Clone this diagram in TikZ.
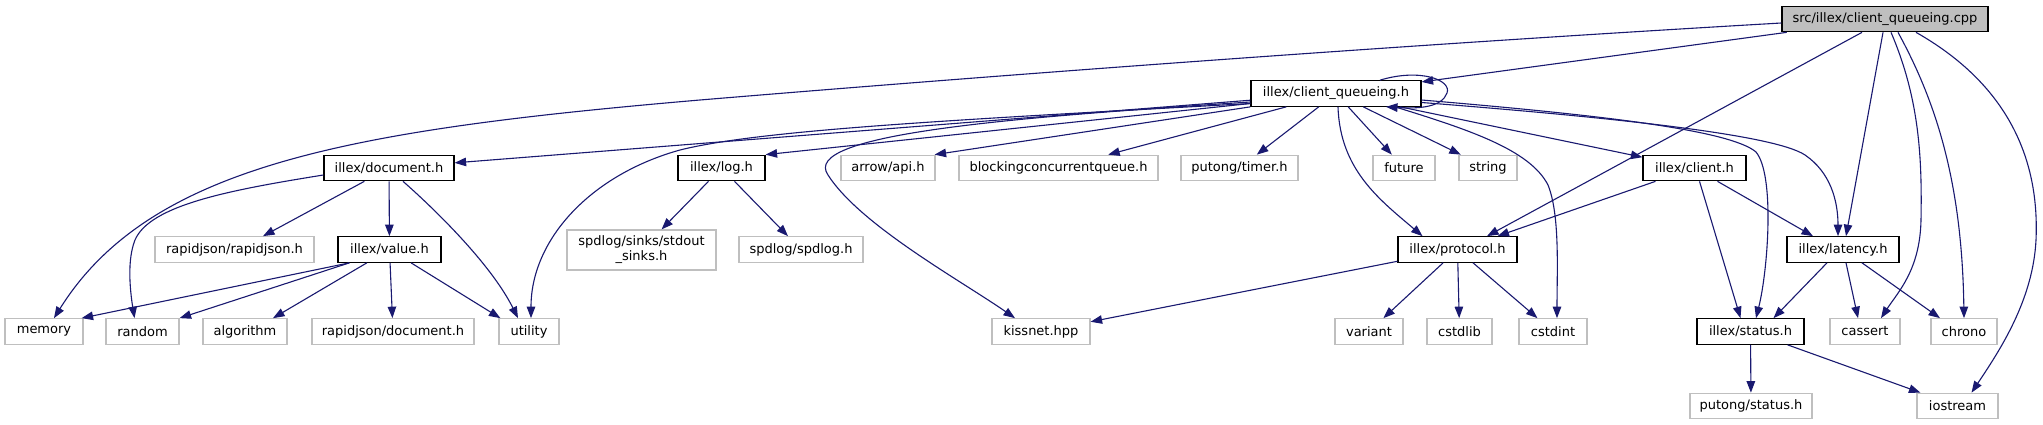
\documentclass[tikz,border=0pt]{standalone}
\usepackage{fontspec}
\setmainfont{DejaVu Sans}
\usetikzlibrary{arrows.meta,calc}
\definecolor{edgec}{HTML}{191970}
\definecolor{greyb}{HTML}{BFBFBF}
\begin{document}
\begin{tikzpicture}[x=1pt,y=-1pt,
  font=\fontsize{13}{15}\selectfont,
  nb/.style={draw=black, line width=1.2pt, fill=white, inner sep=0pt, minimum height=25.5pt},
  gb/.style={draw=greyb, line width=1.2pt, fill=white, inner sep=0pt, minimum height=25.5pt},
  e/.style={draw=edgec, line width=1.1pt, -{Triangle[length=11.5pt,width=8.5pt]}},
  wd/.style={minimum width=#1}]
\fill[white] (0,0) rectangle (2043,425);
\useasboundingbox (0,0) rectangle (2043,425);
% row 0
\node[nb,fill=greyb,wd=206] (cpp) at (1885,19) {src/illex/client\_queueing.cpp};
% row 1
\node[nb,wd=170] (cq) at (1336,93.5) {illex/client\_queueing.h};
% row 2
\node[nb,wd=130] (doc) at (389,168) {illex/document.h};
\node[nb,wd=87] (log) at (721.5,168) {illex/log.h};
\node[gb,wd=94] (api) at (888,168) {arrow/api.h};
\node[gb,wd=199] (bcq) at (1058.5,168) {blockingconcurrentqueue.h};
\node[gb,wd=117] (timer) at (1239.5,168) {putong/timer.h};
\node[gb,wd=62] (future) at (1404,168) {future};
\node[gb,wd=58] (string) at (1488,168) {string};
\node[nb,wd=103] (client) at (1694.5,168) {illex/client.h};
% row 3
\node[gb,wd=159] (rj) at (234.5,249.5) {rapidjson/rapidjson.h};
\node[nb,wd=103] (value) at (389.5,249.5) {illex/value.h};
\node[gb,wd=149,minimum height=40pt,align=center] (stdout) at (641.5,250) {spdlog/sinks/stdout\\\_sinks.h};
\node[gb,wd=124] (spdlog) at (801,249.5) {spdlog/spdlog.h};
\node[nb,wd=119] (protocol) at (1457.5,249.5) {illex/protocol.h};
\node[nb,wd=112] (latency) at (1843,249.5) {illex/latency.h};
% row 4
\node[gb,wd=78] (memory) at (44,331.5) {memory};
\node[gb,wd=73] (random) at (142.5,331.5) {random};
\node[gb,wd=84] (algorithm) at (245,331.5) {algorithm};
\node[gb,wd=162] (rjdoc) at (393,331.5) {rapidjson/document.h};
\node[gb,wd=60] (utility) at (529,331.5) {utility};
\node[gb,wd=98] (kissnet) at (1041,331.5) {kissnet.hpp};
\node[gb,wd=68] (variant) at (1369,331.5) {variant};
\node[gb,wd=65] (cstdlib) at (1459.5,331.5) {cstdlib};
\node[gb,wd=68] (cstdint) at (1553,331.5) {cstdint};
\node[nb,wd=107] (status) at (1750.5,331.5) {illex/status.h};
\node[gb,wd=70] (cassert) at (1865,331.5) {cassert};
\node[gb,wd=66] (chrono) at (1964,331.5) {chrono};
% row 5
\node[gb,wd=122] (pstatus) at (1751,406) {putong/status.h};
\node[gb,wd=81] (iostream) at (1957.5,406) {iostream};

% edges from cpp
\draw[e] (cpp) -- (cq);
\draw[e] ($(cpp.west)+(0,4)$) .. controls (1400,45) and (1000,75) .. (700,100)
   .. controls (350,130) and (150,165) .. ($(memory.north)+(10,0)$);
\draw[e] ($(cpp.south)+(-23,0)$) -- ($(protocol.north)+(29.5,0)$);
\draw[e] ($(cpp.south)+(-2,0)$) -- ($(latency.north)+(3,0)$);
\draw[e] ($(cpp.south)+(6,0)$) .. controls (1920,100) and (1922,160) .. (1921,220)
   .. controls (1920,270) and (1898,292) .. ($(cassert.north)+(16,0)$);
\draw[e] ($(cpp.south)+(13,0)$) .. controls (1935,100) and (1962,180) .. (chrono.north);
\draw[e] ($(cpp.south)+(31,0)$) .. controls (2000,80) and (2040,150) .. (2036,240)
   .. controls (2033,300) and (2000,350) .. ($(iostream.north)+(14,0)$);

% edges from client_queueing.h
\draw[e] ($(cq.north)+(44,0)$) .. controls (1420,68) and (1452,80) .. (1447,93)
   .. controls (1442,107) and (1420,109) .. ($(cq.south)+(50,0)$);
\draw[e] (cq) -- (doc);
\draw[e] ($(cq.west)+(0,10)$) -- (log.north east);
\draw[e] (cq.south west) -- ($(api.north east)+(-1,0)$);
\draw[e] (cq) -- (bcq);
\draw[e] (cq) -- (timer);
\draw[e] (cq) -- (future);
\draw[e] (cq) -- (string);
\draw[e] (cq) -- (client);
\draw[e] ($(cq.west)+(0,10)$) .. controls (950,120) and (760,130) .. (680,150)
   .. controls (590,175) and (531,240) .. ($(utility.north)+(2,0)$);
\draw[e] ($(cq.west)+(0,8.5)$) .. controls (1000,118) and (800,135) .. (828,175)
   .. controls (860,225) and (960,280) .. ($(kissnet.north)+(-26,0)$);
\draw[e] ($(cq.south)+(2,0)$) .. controls (1340,170) and (1380,200) .. ($(protocol.north)+(-35,0)$);
\draw[e] ($(cq.south)+(59,0)$) .. controls (1470,130) and (1530,150) .. (1548,185)
   .. controls (1560,215) and (1557,270) .. ($(cstdint.north)+(4,0)$);
\draw[e] ($(cq.east)+(0,6.5)$) .. controls (1600,115) and (1730,130) .. (1756,152)
   .. controls (1775,175) and (1768,270) .. ($(status.north)+(5.5,0)$);
\draw[e] ($(cq.east)+(0,9)$) .. controls (1620,118) and (1775,135) .. (1805,155)
   .. controls (1830,172) and (1838,200) .. ($(latency.north)+(-5,0)$);

% document.h
\draw[e] ($(doc.west)+(0,7)$) .. controls (230,190) and (150,205) .. (135,240)
   .. controls (127,260) and (130,290) .. ($(random.north)+(-8,0)$);
\draw[e] (doc) -- ($(rj.north)+(28.5,0)$);
\draw[e] (doc) -- (value);
\draw[e] ($(doc.south)+(14,0)$) .. controls (430,205) and (490,262) .. ($(utility.north)+(-11,0)$);

% value.h
\draw[e] ($(value.south west)+(12,0)$) -- ($(memory.north east)+(-2,0)$);
\draw[e] ($(value.south west)+(12,0)$) -- (random.north east);
\draw[e] (value) -- ($(algorithm.north)+(28,0)$);
\draw[e] (value) -- (rjdoc);
\draw[e] (value) -- ($(utility.north west)+(2,0)$);

% log.h
\draw[e] (log) -- (stdout);
\draw[e] (log) -- (spdlog);

% client.h
\draw[e] ($(client.south)+(-39,0)$) -- ($(protocol.north)+(40,0)$);
\draw[e] ($(client.south)+(5,0)$) -- ($(status.north)+(-10,0)$);
\draw[e] ($(client.south)+(23,0)$) -- ($(latency.north)+(-30,0)$);

% protocol.h
\draw[e] (protocol) -- (kissnet);
\draw[e] (protocol) -- (variant);
\draw[e] (protocol) -- (cstdlib);
\draw[e] (protocol) -- (cstdint);

% latency.h
\draw[e] ($(latency.south)+(-16,0)$) -- ($(status.north)+(23,0)$);
\draw[e] ($(latency.south)+(3,0)$) -- ($(cassert.north)+(-7,0)$);
\draw[e] ($(latency.south)+(19,0)$) -- ($(chrono.north)+(-24,0)$);

% status.h
\draw[e] (status) -- (pstatus);
\draw[e] (status) -- (iostream);
\end{tikzpicture}
\end{document}
